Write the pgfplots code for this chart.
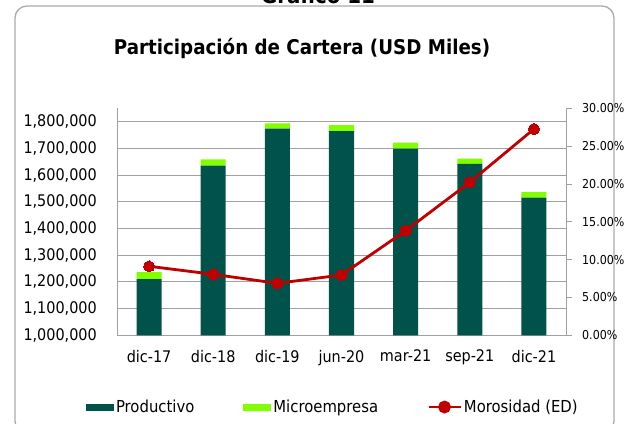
\documentclass[border=0pt]{standalone}
\usepackage{fontspec}
\setmainfont{DejaVu Sans}[FakeStretch=0.9]
\usepackage{pgfplots}
\pgfplotsset{compat=1.18}

\definecolor{prod}{RGB}{0,82,74}
\definecolor{micro}{RGB}{128,255,0}
\definecolor{moro}{RGB}{192,0,0}
\definecolor{gridc}{RGB}{160,160,160}
\definecolor{framec}{RGB}{170,170,170}

\begin{document}
\begin{tikzpicture}
\useasboundingbox (0pt,0pt) rectangle (626pt,423pt);
\draw[framec, line width=1.3pt, rounded corners=12pt] (15pt,-10pt) rectangle (614pt,417pt);
\node[font=\fontsize{22}{26}\selectfont\bfseries, anchor=base] at (318pt,419pt) {Gráfico 11};
\node[font=\fontsize{20.3}{24}\selectfont\bfseries] at (302pt,375pt) {Participación de Cartera (USD Miles)};

% carteras (eje izquierdo)
\begin{axis}[
    at={(117pt,87.7pt)}, anchor=south west,
    scale only axis, width=449pt, height=227pt,
    xmin=-0.5, xmax=6.5, ymin=1000000, ymax=1850000,
    ybar stacked, bar width=25pt,
    xtick={0,1,2,3,4,5,6},
    xticklabels={dic-17,dic-18,dic-19,jun-20,mar-21,sep-21,dic-21},
    ytick={1000000,1100000,1200000,1300000,1400000,1500000,1600000,1700000,1800000},
    scaled y ticks=false,
    ymajorgrids, grid style={gridc, line width=0.8pt},
    axis x line*=bottom, axis y line*=left,
    axis line style={gridc, line width=0.8pt},
    major tick length=0pt,
    tick label style={font=\fontsize{16}{19}\selectfont},
    yticklabel style={/pgf/number format/.cd, fixed, 1000 sep={,}, assume math mode=true,
        /tikz/.cd, anchor=east, inner sep=0pt, xshift=-20pt},
    xticklabel style={anchor=north, inner sep=0pt, yshift=-14.5pt},
    legend columns=3,
    legend style={draw=none, fill=none, at={(-0.069,-0.316)}, anchor=west,
        inner sep=0pt, outer sep=0pt,
        font=\fontsize{16.5}{19}\selectfont,
        nodes={inner sep=2pt},
        /tikz/every even column/.append style={column sep=47pt}},
    legend image code/.code={\fill[#1] (0pt,-3.5pt) rectangle (28pt,3.5pt);},
]
\addplot[fill=prod, draw=none] coordinates {(0,1210000) (1,1635500) (2,1773800) (3,1764900) (4,1699000) (5,1641500) (6,1515900)};
\addplot[fill=micro, draw=none] coordinates {(0,27000) (1,23500) (2,20000) (3,22000) (4,22500) (5,20000) (6,20000)};
\addlegendimage{moro, line width=2.8pt, legend image code/.code={
    \draw[moro, line width=2.8pt] (0pt,0pt) -- (32pt,0pt);
    \fill[moro] (16pt,0pt) circle (5pt);}}
\legend{Productivo, Microempresa, Morosidad (ED)}
\end{axis}

% morosidad (eje derecho)
\begin{axis}[
    at={(117pt,87.7pt)}, anchor=south west,
    scale only axis, width=449pt, height=227pt,
    xmin=-0.5, xmax=6.5, ymin=0, ymax=30,
    axis x line=none, axis y line*=right,
    axis line style={gridc, line width=0.8pt},
    ytick={0,5,10,15,20,25,30},
    yticklabel={\pgfmathprintnumber[fixed,fixed zerofill,precision=2,assume math mode=true]{\tick}\%},
    tick align=outside, major tick length=6pt,
    tick style={gridc, line width=0.8pt},
    yticklabel style={font=\fontsize{12.3}{15}\selectfont, anchor=west, inner sep=0pt, xshift=10pt},
]
\addplot[moro, line width=2.8pt, mark=*, mark size=5.5pt, mark options={fill=moro, draw=moro, line width=0pt}]
    coordinates {(0,9.12) (1,8.06) (2,6.87) (3,7.97) (4,13.82) (5,20.22) (6,27.26)};
\end{axis}
\end{tikzpicture}
\end{document}
